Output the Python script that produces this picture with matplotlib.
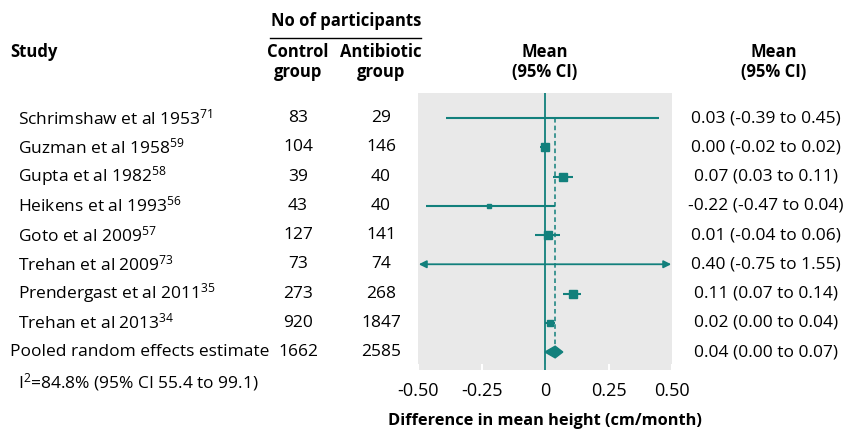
import matplotlib

matplotlib.use("Agg")
import matplotlib.pyplot as plt
import matplotlib.transforms as mtransforms
from matplotlib.patches import Polygon

plt.rcParams["font.family"] = ["Open Sans", "DejaVu Sans"]
plt.rcParams["mathtext.default"] = "regular"

TEAL = "#12807c"
PANEL = "#e9e9e9"

studies = ["Schrimshaw et al 1953", "Guzman et al 1958", "Gupta et al 1982", "Heikens et al 1993",
           "Goto et al 2009", "Trehan et al 2009", "Prendergast et al 2011", "Trehan et al 2013"]
refs = ["71", "59", "58", "56", "57", "73", "35", "34"]
control_n = [83, 104, 39, 43, 127, 73, 273, 920]
antibiotic_n = [29, 146, 40, 40, 141, 74, 268, 1847]
mean = [0.03, 0.00, 0.07, -0.22, 0.01, 0.40, 0.11, 0.02]
ci_low = [-0.39, -0.02, 0.03, -0.47, -0.04, -0.75, 0.07, 0.00]
ci_high = [0.45, 0.02, 0.11, 0.04, 0.06, 1.55, 0.14, 0.04]
# square size (points) by study weight; 0 = not drawn
box_size = [0, 6.2, 5.4, 2.4, 5.4, 0, 5.4, 4.8]

pooled_label = "Pooled random effects estimate"
pooled_control, pooled_antibiotic = 1662, 2585
pooled_mean, pooled_low, pooled_high = 0.04, 0.00, 0.07
het_text = "I$^{2}$=84.8% (95% CI 55.4 to 99.1)"

xticks = [-0.50, -0.25, 0, 0.25, 0.50]
xtick_labels = ["-0.50", "-0.25", "0", "0.25", "0.50"]
xlim = (-0.5, 0.5)

W, H = 848, 430
fig = plt.figure(figsize=(W / 100, H / 100), dpi=100)
ax = fig.add_axes([418 / W, 60 / H, 254 / W, 277 / H])
ax.set_facecolor(PANEL)
for s in ax.spines.values():
    s.set_visible(False)
ax.set_xlim(*xlim)
ax.set_ylim(8.615, -0.855)
ax.set_yticks([])
ax.set_xticks(xticks)
ax.set_xticklabels(xtick_labels, fontsize=13)
ax.tick_params(axis="x", direction="in", color="white", width=1.5, length=4, pad=9)

ax.axvline(0, color=TEAL, lw=1.3, zorder=2)
ax.plot([pooled_mean, pooled_mean], [0, 8], color=TEAL, lw=1.1, ls=(0, (3, 2)), zorder=2)

for i in range(len(studies)):
    lo, hi = ci_low[i], ci_high[i]
    if lo < xlim[0] or hi > xlim[1]:
        ax.annotate("", xy=(max(lo, xlim[0]) + 0.003, i), xytext=(min(hi, xlim[1]) - 0.003, i),
                    arrowprops=dict(arrowstyle="<|-|>", color=TEAL, lw=1.3,
                                    mutation_scale=11, shrinkA=0, shrinkB=0), zorder=3)
    else:
        ax.plot([lo, hi], [i, i], color=TEAL, lw=1.5, zorder=3, solid_capstyle="butt")
    if box_size[i]:
        ax.plot(mean[i], i, marker="s", ms=box_size[i], color=TEAL, mec=TEAL, zorder=4)

n = len(studies)
diamond = Polygon([(pooled_low, n), (pooled_mean, n - 0.2), (pooled_high, n), (pooled_mean, n + 0.2)],
                  closed=True, color=TEAL, zorder=4)
ax.add_patch(diamond)

ax.set_xlabel("Difference in mean height (cm/month)", fontsize=11.8, fontweight="bold", labelpad=9)

# columns left and right of the panel
tr = mtransforms.blended_transform_factory(fig.transFigure, ax.transData)
fs = 12.5
for i in range(n):
    fig.text(18 / W, i, f"{studies[i]}$^{{{refs[i]}}}$", transform=tr, fontsize=fs, va="center", ha="left")
    fig.text(298 / W, i, str(control_n[i]), transform=tr, fontsize=fs, va="center", ha="center")
    fig.text(381 / W, i, str(antibiotic_n[i]), transform=tr, fontsize=fs, va="center", ha="center")
    fig.text(766 / W, i, f"{mean[i]:.2f} ({ci_low[i]:.2f} to {ci_high[i]:.2f})", transform=tr,
             fontsize=fs, va="center", ha="center")

fig.text(10 / W, n, pooled_label, transform=tr, fontsize=fs, va="center", ha="left")
fig.text(298 / W, n, str(pooled_control), transform=tr, fontsize=fs, va="center", ha="center")
fig.text(381 / W, n, str(pooled_antibiotic), transform=tr, fontsize=fs, va="center", ha="center")
fig.text(766 / W, n, f"{pooled_mean:.2f} ({pooled_low:.2f} to {pooled_high:.2f})", transform=tr,
         fontsize=fs, va="center", ha="center")
fig.text(18 / W, 1 - 382 / H, het_text, fontsize=fs, va="center", ha="left")

# header block
def head(x, y, s, ha="center"):
    fig.text(x / W, 1 - y / H, s, fontsize=12, fontweight="bold", va="center", ha=ha)

head(346, 21, "No of participants")
fig.add_artist(plt.Line2D([270 / W, 421 / W], [1 - 38 / H, 1 - 38 / H], color="black", lw=1))
head(10, 52, "Study", ha="left")
head(298, 52, "Control")
head(298, 72, "group")
head(381, 52, "Antibiotic")
head(381, 72, "group")
head(545, 52, "Mean")
head(545, 72, "(95% CI)")
head(774, 52, "Mean")
head(774, 72, "(95% CI)")

fig.savefig("out.png", dpi=100)
